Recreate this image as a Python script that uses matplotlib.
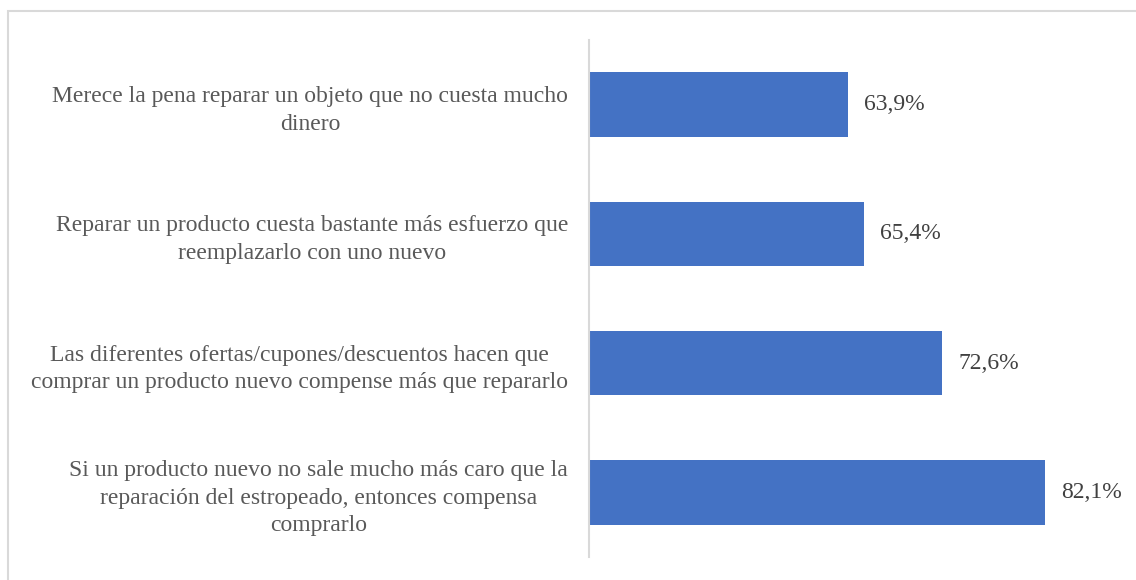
import matplotlib.pyplot as plt
from matplotlib.patches import Rectangle

statements = [
    "Merece la pena reparar un objeto que no cuesta mucho\ndinero",
    "Reparar un producto cuesta bastante más esfuerzo que\nreemplazarlo con uno nuevo",
    "Las diferentes ofertas/cupones/descuentos hacen que\ncomprar un producto nuevo compense más que repararlo",
    "Si un producto nuevo no sale mucho más caro que la\nreparación del estropeado, entonces compensa\ncomprarlo",
]
percent = [63.9, 65.4, 72.6, 82.1]

plt.rcParams['font.family'] = ['Liberation Serif', 'DejaVu Serif']

fig = plt.figure(figsize=(11.36, 5.80), dpi=100)
ax = fig.add_axes([589 / 1136, 23 / 580, 542 / 1136, 517 / 580])

pos = list(range(len(statements)))
ax.barh(pos, percent, height=0.5, color="#4472C4", left=0)

for y, v in zip(pos, percent):
    ax.annotate(f"{v:.1f}%".replace(".", ","), (v, y), xytext=(11.5, 0),
                textcoords="offset points", va="center", ha="left",
                fontsize=17, color="#404040")

ax.set_xlim(40, 90)
ax.set_ylim(3.5, -0.5)
ax.set_yticks(pos)
ax.set_yticklabels(statements, fontsize=17, color="#595959",
                   multialignment="center", linespacing=1.42)
ax.tick_params(axis="y", length=0, pad=15)
ax.set_xticks([])

for side in ["top", "right", "bottom"]:
    ax.spines[side].set_visible(False)
ax.spines["left"].set_color("#d9d9d9")
ax.spines["left"].set_linewidth(1.5)

# chart area frame, clipped at the right and bottom edges
fig.add_artist(Rectangle((8 / 1136, -0.1), 1.2, 1 - 11 / 580 + 0.1,
                         transform=fig.transFigure, fill=False,
                         edgecolor="#d9d9d9", linewidth=1.5))

fig.savefig("out.png", dpi=100)
